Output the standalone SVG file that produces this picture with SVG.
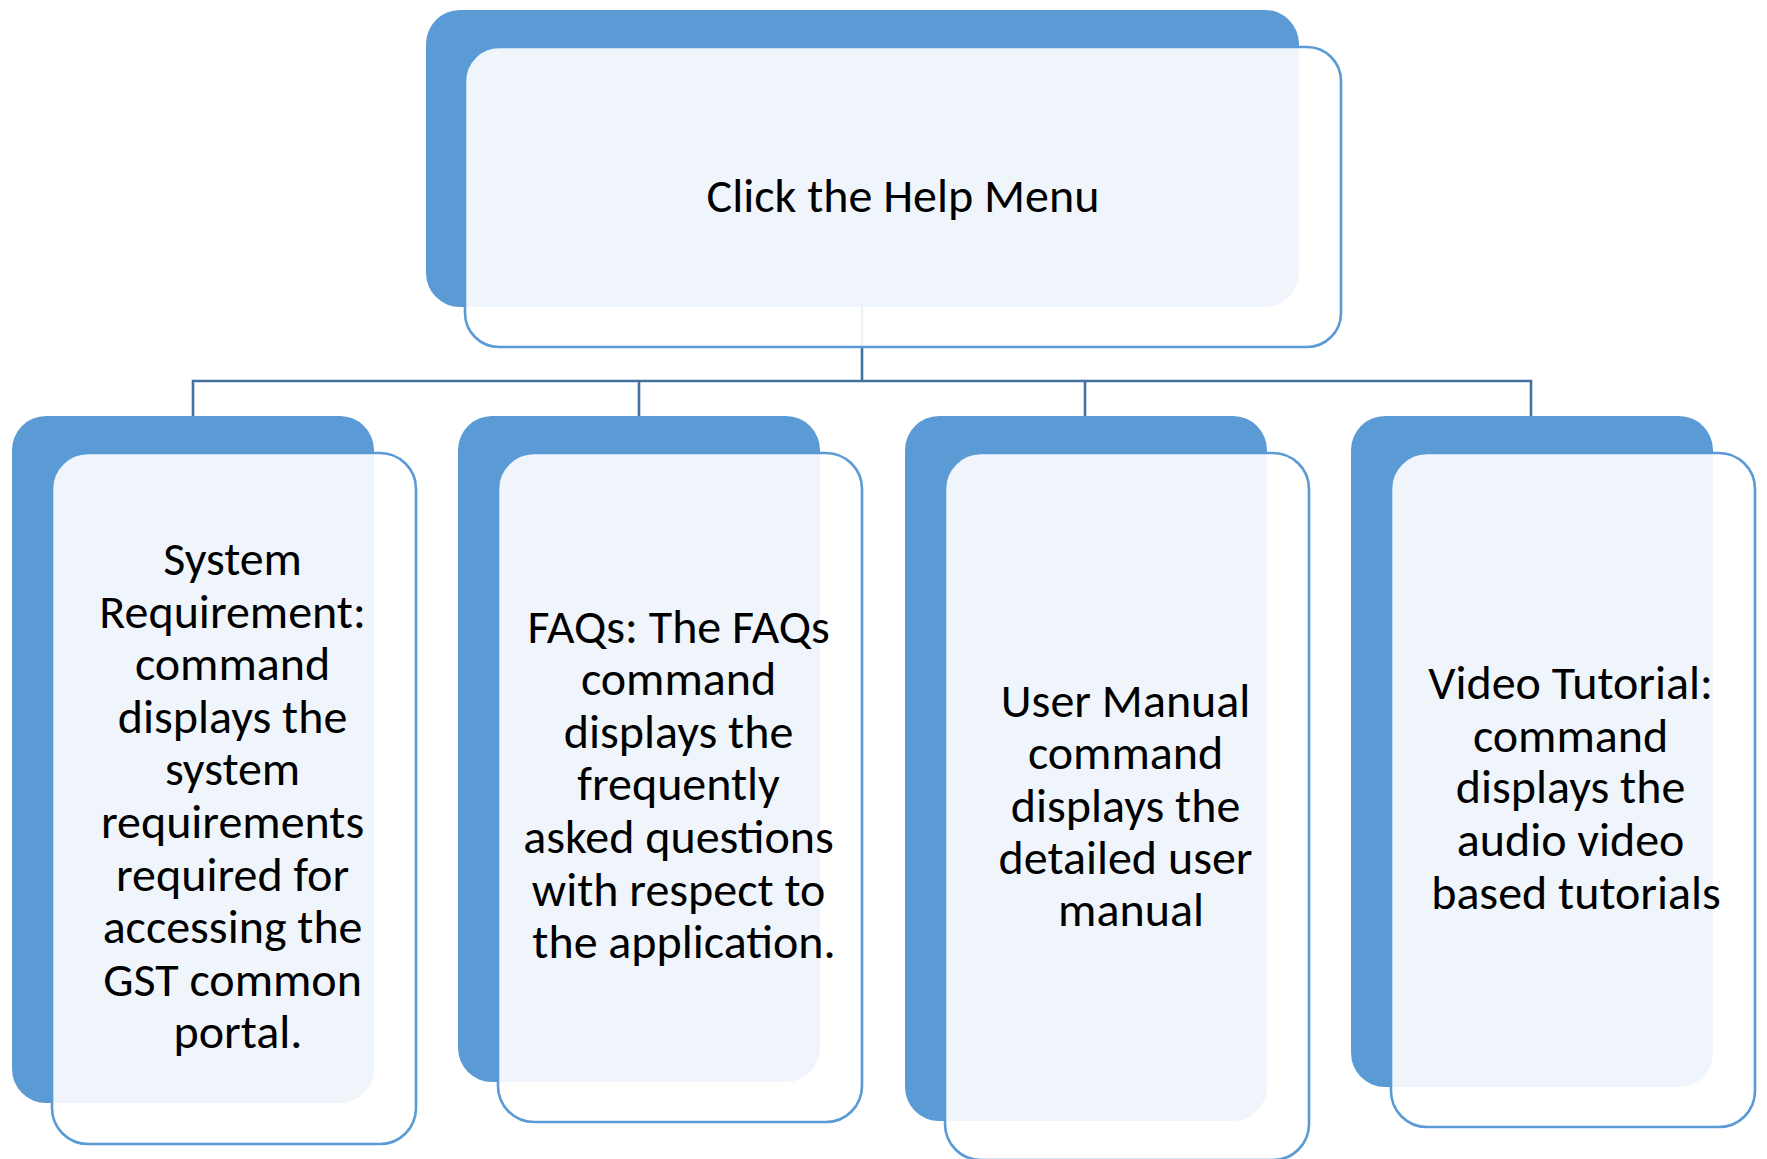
<svg xmlns="http://www.w3.org/2000/svg" width="1767" height="1159" viewBox="0 0 1767 1159">
<style>
.back{fill:#5B9BD5}
.front{fill:#FFFFFF;fill-opacity:0.9;stroke:#5B9BD5;stroke-width:2.6}
.conn{fill:none;stroke:#41719C;stroke-width:2.6}
.t{font-family:Carlito,Calibri,Lato,"Liberation Sans",sans-serif;font-size:48px;fill:#000000;text-anchor:middle}
</style>
<rect x="0" y="0" width="1767" height="1159" fill="#FFFFFF"/>
<g id="connectors">
<path class="conn" d="M862,307 V381 M193,416 V381 H1531 V416 M639,381 V416 M1085,381 V416"/>
</g>
<g id="node-help">
<rect class="back" x="426" y="10" width="873" height="297" rx="34" ry="34"/>
<rect class="front" x="465" y="47" width="876" height="300" rx="34" ry="34"/>
<text class="t" x="903" y="212">Click the Help Menu</text>
</g>
<g id="node-system">
<rect class="back" x="12" y="416" width="362" height="687" rx="34" ry="34"/>
<rect class="front" x="52" y="453" width="364" height="691" rx="36" ry="36"/>
<text class="t" x="238">
<tspan x="238" y="575">System</tspan>
<tspan x="238" y="628">Requirement:</tspan>
<tspan x="238" y="680">command</tspan>
<tspan x="238" y="733">displays the</tspan>
<tspan x="238" y="785">system</tspan>
<tspan x="238" y="838">requirements</tspan>
<tspan x="238" y="891">required for</tspan>
<tspan x="238" y="943">accessing the</tspan>
<tspan x="238" y="996">GST common</tspan>
<tspan x="238" y="1048">portal.</tspan>
</text>
</g>
<g id="node-faqs">
<rect class="back" x="458" y="416" width="362" height="666" rx="34" ry="34"/>
<rect class="front" x="498" y="453" width="364" height="669" rx="36" ry="36"/>
<text class="t" x="684">
<tspan x="684" y="643">FAQs: The FAQs</tspan>
<tspan x="684" y="695">command</tspan>
<tspan x="684" y="748">displays the</tspan>
<tspan x="684" y="800">frequently</tspan>
<tspan x="684" y="853">asked questions</tspan>
<tspan x="684" y="906">with respect to</tspan>
<tspan x="684" y="958">the application.</tspan>
</text>
</g>
<g id="node-manual">
<rect class="back" x="905" y="416" width="362" height="705" rx="34" ry="34"/>
<rect class="front" x="945" y="453" width="364" height="707" rx="36" ry="36"/>
<text class="t" x="1131">
<tspan x="1131" y="717">User Manual</tspan>
<tspan x="1131" y="769">command</tspan>
<tspan x="1131" y="822">displays the</tspan>
<tspan x="1131" y="874">detailed user</tspan>
<tspan x="1131" y="926">manual</tspan>
</text>
</g>
<g id="node-video">
<rect class="back" x="1351" y="416" width="362" height="671" rx="34" ry="34"/>
<rect class="front" x="1391" y="453" width="364" height="674" rx="36" ry="36"/>
<text class="t" x="1576">
<tspan x="1576" y="699">Video Tutorial:</tspan>
<tspan x="1576" y="752">command</tspan>
<tspan x="1576" y="803">displays the</tspan>
<tspan x="1576" y="856">audio video</tspan>
<tspan x="1576" y="909">based tutorials</tspan>
</text>
</g>
</svg>
